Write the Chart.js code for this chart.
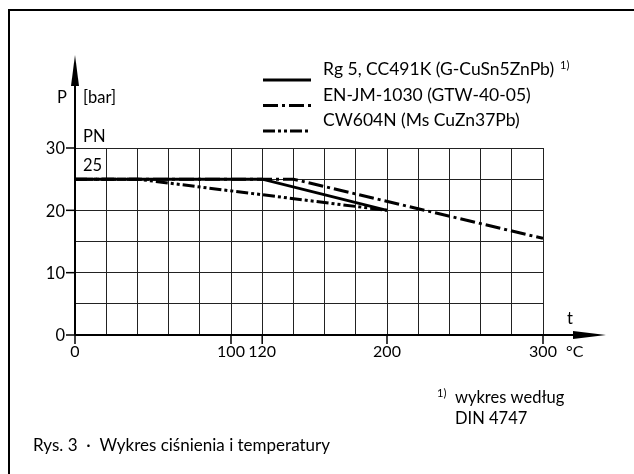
<!DOCTYPE html>
<html>
<head>
<meta charset="utf-8">
<script src="https://cdn.jsdelivr.net/npm/chart.js@4"></script>
<style>
  html, body { margin: 0; padding: 0; background: #fff; }
  #wrap { width: 634px; height: 474px; }
</style>
</head>
<body>
<div id="wrap"><canvas id="chart" width="634" height="474"></canvas></div>
<script>
// dane
const rgTemp = [0, 120, 200];
const rgPress = [25, 25, 20];
const enTemp = [0, 140, 300];
const enPress = [25, 25, 15.5];
const cwTemp = [0, 40, 200];
const cwPress = [25, 25, 20];

const seriesLabels = ["Rg 5, CC491K (G-CuSn5ZnPb)", "EN-JM-1030 (GTW-40-05)", "CW604N (Ms CuZn37Pb)"];
const xTickLabels = [0, 100, 120, 200, 300];
const yTickLabels = [0, 10, 20, 30];

const FONT = "Lato, 'Noto Sans', sans-serif";
const dashes = [[], [15, 4, 3, 4], [12, 3, 3, 3, 3, 3]];

function pts(xs, ys) {
  return xs.map((x, i) => ({ x: x, y: ys[i] }));
}

// rysowanie osi, opisów i legendy
const drawing = {
  id: "drawing",
  afterDraw(chart) {
    const ctx = chart.ctx;
    const xs = chart.scales.x;
    const ys = chart.scales.y;
    const x0 = xs.getPixelForValue(0);
    const y0 = ys.getPixelForValue(0);
    ctx.save();
    ctx.strokeStyle = "#000";
    ctx.fillStyle = "#000";

    // ramka
    ctx.lineWidth = 2;
    ctx.beginPath();
    ctx.moveTo(9, 474);
    ctx.lineTo(9, 10);
    ctx.lineTo(634, 10);
    ctx.stroke();

    // os Y ze strzalka
    ctx.lineWidth = 2;
    ctx.beginPath();
    ctx.moveTo(x0, y0);
    ctx.lineTo(x0, 80);
    ctx.stroke();
    ctx.beginPath();
    ctx.moveTo(x0, 55);
    ctx.lineTo(x0 + 4, 86);
    ctx.lineTo(x0 - 4, 86);
    ctx.closePath();
    ctx.fill();

    // os X ze strzalka
    ctx.beginPath();
    ctx.moveTo(x0, y0);
    ctx.lineTo(580, y0);
    ctx.stroke();
    ctx.beginPath();
    ctx.moveTo(606, y0);
    ctx.lineTo(573, y0 - 4);
    ctx.lineTo(573, y0 + 4);
    ctx.closePath();
    ctx.fill();

    // podzialka Y
    ctx.font = "16.5px " + FONT;
    ctx.textAlign = "right";
    ctx.textBaseline = "middle";
    ctx.lineWidth = 1.5;
    yTickLabels.forEach((v) => {
      const y = ys.getPixelForValue(v);
      ctx.beginPath();
      ctx.moveTo(x0 - 9, y);
      ctx.lineTo(x0, y);
      ctx.stroke();
      ctx.fillText(String(v), x0 - 10, y + 1);
    });

    // podzialka X
    ctx.font = "16px " + FONT;
    ctx.textAlign = "center";
    ctx.textBaseline = "top";
    xTickLabels.forEach((v) => {
      const x = xs.getPixelForValue(v);
      ctx.beginPath();
      ctx.moveTo(x, y0);
      ctx.lineTo(x, y0 + 9);
      ctx.stroke();
      ctx.fillText(String(v), x, y0 + 9);
    });
    ctx.textAlign = "left";
    ctx.fillText("°C", xs.getPixelForValue(300) + 23, y0 + 9);
    ctx.font = "16.5px " + FONT;
    ctx.textAlign = "center";
    ctx.textBaseline = "alphabetic";
    ctx.fillText("t", 570, 324);

    // opisy osi Y
    ctx.textAlign = "left";
    ctx.fillText("P", 57, 103);
    ctx.fillText("[bar]", 83, 103);
    ctx.fillText("PN", 83, 142);
    ctx.fillText("25", 83, 171);

    // legenda
    chart.data.datasets.forEach((ds, i) => {
      const ly = 80 + i * 25.5;
      ctx.lineWidth = 3;
      ctx.setLineDash(dashes[i]);
      ctx.beginPath();
      ctx.moveTo(263, ly);
      ctx.lineTo(311, ly);
      ctx.stroke();
      ctx.setLineDash([]);
      ctx.font = "17.5px " + FONT;
      ctx.fillText(ds.label, 323, ly - 5);
      if (i === 0) {
        const w = ctx.measureText(ds.label).width;
        ctx.font = "11px " + FONT;
        ctx.fillText("1)", 323 + w + 6, ly - 11);
      }
    });

    // przypis
    ctx.font = "11px " + FONT;
    ctx.fillText("1)", 437, 397);
    ctx.font = "16.5px " + FONT;
    ctx.fillText("wykres według", 455, 403);
    ctx.fillText("DIN 4747", 455, 424);

    // podpis
    ctx.font = "17px " + FONT;
    ctx.fillText("Rys. 3  ·  Wykres ciśnienia i temperatury", 33, 451);
    ctx.restore();
  },
};

const ctx = document.getElementById("chart").getContext("2d");
const chart = new Chart(ctx, {
  type: "line",
  data: {
    datasets: [
      { label: seriesLabels[0], data: pts(rgTemp, rgPress), borderDash: dashes[0] },
      { label: seriesLabels[1], data: pts(enTemp, enPress), borderDash: dashes[1] },
      { label: seriesLabels[2], data: pts(cwTemp, cwPress), borderDash: dashes[2] },
    ].map((d) => Object.assign(d, {
      borderColor: "#000",
      borderWidth: 3,
      pointRadius: 0,
      tension: 0,
      fill: false,
    })),
  },
  options: {
    responsive: false,
    animation: false,
    events: [],
    layout: { padding: { left: 75, top: 148, right: 91, bottom: 139 } },
    plugins: { legend: { display: false }, tooltip: { enabled: false } },
    scales: {
      x: {
        type: "linear",
        min: 0,
        max: 300,
        ticks: { display: false, stepSize: 20 },
        grid: { color: "#222", lineWidth: 1, drawTicks: false },
        border: { display: false },
      },
      y: {
        type: "linear",
        min: 0,
        max: 30,
        ticks: { display: false, stepSize: 5 },
        grid: { color: "#222", lineWidth: 1, drawTicks: false },
        border: { display: false },
      },
    },
  },
  plugins: [drawing],
});
</script>
</body>
</html>
